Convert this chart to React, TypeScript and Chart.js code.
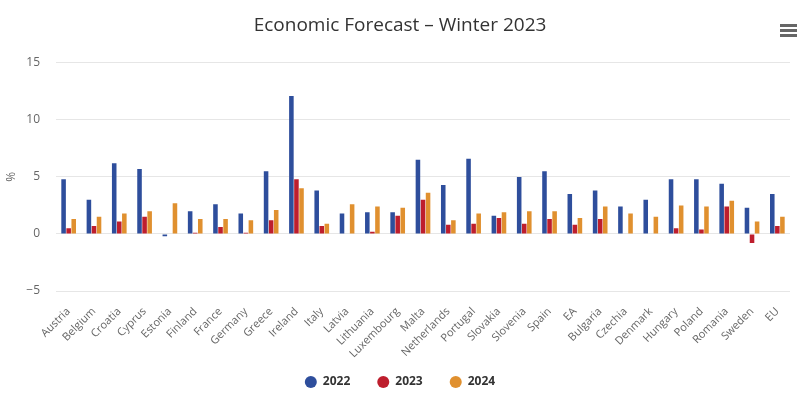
import { useEffect, useRef } from 'react';
import { Chart, registerables } from 'chart.js';

Chart.register(...registerables);

const categories = [
  'Austria', 'Belgium', 'Croatia', 'Cyprus', 'Estonia', 'Finland', 'France', 'Germany', 'Greece',
  'Ireland', 'Italy', 'Latvia', 'Lithuania', 'Luxembourg', 'Malta', 'Netherlands', 'Portugal',
  'Slovakia', 'Slovenia', 'Spain', 'EA', 'Bulgaria', 'Czechia', 'Denmark', 'Hungary', 'Poland',
  'Romania', 'Sweden', 'EU',
];

const values2022 = [4.8, 3.0, 6.2, 5.7, -0.2, 2.0, 2.6, 1.8, 5.5, 12.1, 3.8, 1.8, 1.9, 1.9, 6.5, 4.3, 6.6, 1.6, 5.0, 5.5, 3.5, 3.8, 2.4, 3.0, 4.8, 4.8, 4.4, 2.3, 3.5];
const values2023 = [0.5, 0.7, 1.1, 1.5, 0, 0.1, 0.6, 0.1, 1.2, 4.8, 0.7, 0, 0.2, 1.6, 3.0, 0.8, 0.9, 1.4, 0.9, 1.3, 0.8, 1.3, 0, 0, 0.5, 0.4, 2.4, -0.8, 0.7];
const values2024 = [1.3, 1.5, 1.8, 2.0, 2.7, 1.3, 1.3, 1.2, 2.1, 4.0, 0.9, 2.6, 2.4, 2.3, 3.6, 1.2, 1.8, 1.9, 2.0, 2.0, 1.4, 2.4, 1.8, 1.5, 2.5, 2.4, 2.9, 1.1, 1.5];

const seriesLabels = ['2022', '2023', '2024'];
const seriesColors = ['#2E4E9C', '#BE1E2D', '#E0902F'];
const yTicks = [-5, 0, 5, 10, 15];

const FONT = "'Open Sans', sans-serif";

export default function App() {
  const canvasRef = useRef<HTMLCanvasElement | null>(null);

  useEffect(() => {
    document.body.style.margin = '0';
    const canvas = canvasRef.current;
    if (!canvas) return;
    const chart = new Chart(canvas, {
      type: 'bar',
      data: {
        labels: categories,
        datasets: [values2022, values2023, values2024].map((vals, i) => ({
          label: seriesLabels[i],
          data: vals,
          backgroundColor: seriesColors[i],
          borderWidth: 0,
          categoryPercentage: 0.6,
          barPercentage: 0.9,
        })),
      },
      options: {
        animation: false,
        responsive: true,
        maintainAspectRatio: false,
        layout: { padding: { left: 0, right: 4, top: 0, bottom: 0 } },
        plugins: {
          title: {
            display: true,
            text: 'Economic Forecast – Winter 2023',
            color: '#333333',
            font: { family: FONT, size: 19, weight: 'normal' },
            padding: { top: 14, bottom: 26 },
          },
          legend: {
            display: true,
            position: 'bottom',
            labels: {
              usePointStyle: true,
              pointStyle: 'circle',
              boxWidth: 13,
              boxHeight: 8.5,
              color: '#333333',
              font: { family: FONT, size: 12, weight: 'bold' },
              padding: 27,
            },
          },
          tooltip: { enabled: false },
        },
        scales: {
          x: {
            grid: { display: false },
            border: { display: false },
            ticks: {
              autoSkip: false,
              maxRotation: 45,
              minRotation: 45,
              color: '#666666',
              font: { family: FONT, size: 11 },
              padding: 6,
            },
            afterFit: (scale: any) => {
              scale.height = 58;
              scale._computeLabelArea = () => undefined;
            },
          },
          y: {
            min: -5,
            max: 15,
            afterBuildTicks: (scale: any) => {
              scale.ticks = yTicks.map((v) => ({ value: v }));
            },
            grid: { color: '#e6e6e6', drawTicks: false },
            border: { display: false },
            ticks: {
              color: '#666666',
              font: { family: FONT, size: 12 },
              padding: 16,
              callback: (v: any) => String(v).replace('-', '−'),
            },
            title: {
              display: true,
              text: '%',
              color: '#666666',
              font: { family: FONT, size: 12 },
              padding: { top: 4, bottom: 0 },
            },
            afterFit: (scale: any) => {
              scale.width = 56;
            },
          },
          yRight: {
            type: 'linear',
            position: 'right',
            display: true,
            grid: { display: false, drawTicks: false },
            border: { display: false },
            ticks: { display: false, padding: 0 },
            afterFit: (scale: any) => {
              scale.width = 10;
              scale.paddingTop = 0;
              scale.paddingBottom = 0;
            },
          },
        },
      },
    });
    return () => chart.destroy();
  }, []);

  const barStyle = (top: number) => ({
    position: 'absolute' as const,
    left: 780,
    top,
    width: 17,
    height: 2.5,
    background: '#666666',
  });

  return (
    <div style={{ position: 'fixed', left: 0, top: 0, width: 804, height: 398, background: '#ffffff' }}>
      <canvas ref={canvasRef} />
      <div style={barStyle(24.3)} />
      <div style={barStyle(29.3)} />
      <div style={barStyle(34.3)} />
    </div>
  );
}
